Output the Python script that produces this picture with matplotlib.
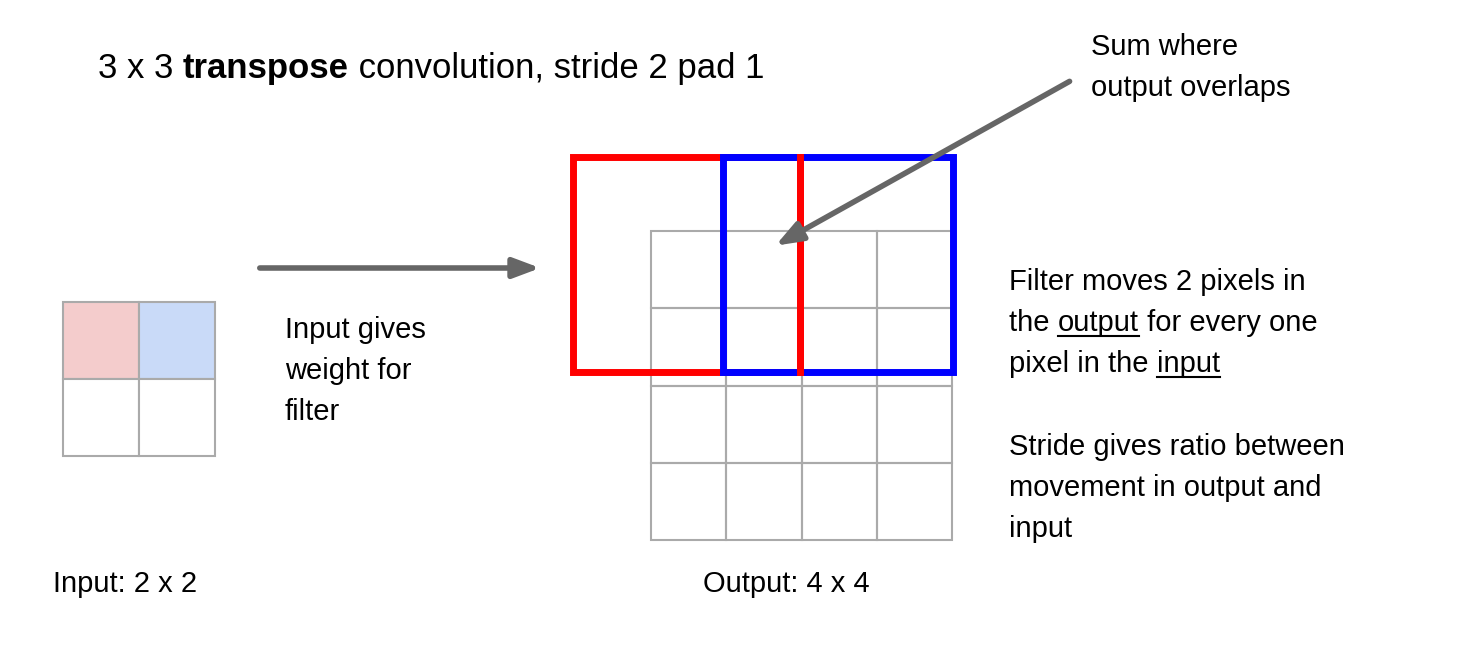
import matplotlib
matplotlib.use('Agg')
import matplotlib.pyplot as plt
from matplotlib.patches import Rectangle

plt.rcParams['font.family'] = 'Liberation Sans'

# input grid 2x2, output grid 4x4
in_origin = (63, 302)
in_cell = (76, 77)
in_colors = [['#f4cccc', '#c9daf8'], ['white', 'white']]
out_origin = (651, 231)
out_cell = (75.25, 77.25)
out_n = 4
red_box = (573, 157, 227, 215)
blue_box = (723, 157, 230, 215)

fig = plt.figure(figsize=(14.63, 6.49), dpi=100)
ax = fig.add_axes([0, 0, 1, 1])
ax.set_xlim(0, 1463)
ax.set_ylim(649, 0)
ax.axis('off')
renderer = fig.canvas.get_renderer()


def rich_line(x, y, parts, size):
    # parts: list of (text, bold, underline); drawn one after another
    for txt, bold, under in parts:
        t = ax.text(x, y, txt, fontsize=size, va='baseline',
                    fontweight='bold' if bold else 'normal')
        bb = t.get_window_extent(renderer).transformed(ax.transData.inverted())
        x1 = bb.x1
        if under:
            ax.plot([x, x1], [y + 5, y + 5], color='black', lw=1.5)
        x = x1


grid_c = '#aaaaaa'
for r in range(2):
    for c in range(2):
        ax.add_patch(Rectangle((in_origin[0] + c * in_cell[0], in_origin[1] + r * in_cell[1]),
                               in_cell[0], in_cell[1], facecolor=in_colors[r][c],
                               edgecolor=grid_c, lw=1.5))
for r in range(out_n):
    for c in range(out_n):
        ax.add_patch(Rectangle((out_origin[0] + c * out_cell[0], out_origin[1] + r * out_cell[1]),
                               out_cell[0], out_cell[1], facecolor='none',
                               edgecolor=grid_c, lw=1.5))

ax.add_patch(Rectangle(red_box[:2], red_box[2], red_box[3], fill=False, edgecolor='#ff0000', lw=5))
ax.add_patch(Rectangle(blue_box[:2], blue_box[2], blue_box[3], fill=False, edgecolor='#0000ff', lw=5))
ax.plot([red_box[0] + red_box[2]] * 2, [red_box[1], red_box[1] + red_box[3]], color='#ff0000', lw=5)

arrow = dict(arrowstyle='-|>,head_length=1.6,head_width=0.6', color='#666666', lw=4)
ax.annotate('', xy=(543, 268), xytext=(257, 268), arrowprops=arrow)
ax.annotate('', xy=(773, 247), xytext=(1072, 80), arrowprops=arrow)

fs = 21
rich_line(98, 78, [('3 x 3 ', False, False), ('transpose', True, False),
                   (' convolution, stride 2 pad 1', False, False)], 25)

def block(x, y0, lines):
    for i, ln in enumerate(lines):
        if isinstance(ln, str):
            ln = [(ln, False, False)]
        rich_line(x, y0 + i * 41, ln, fs)

block(1091, 55, ['Sum where', 'output overlaps'])
block(285, 338, ['Input gives', 'weight for', 'filter'])
block(1009, 290, ['Filter moves 2 pixels in',
                  [('the ', False, False), ('output', False, True), (' for every one', False, False)],
                  [('pixel in the ', False, False), ('input', False, True)]])
block(1009, 455, ['Stride gives ratio between', 'movement in output and', 'input'])
block(53, 592, ['Input: 2 x 2'])
block(703, 592, ['Output: 4 x 4'])

fig.savefig('out.png', dpi=100)
